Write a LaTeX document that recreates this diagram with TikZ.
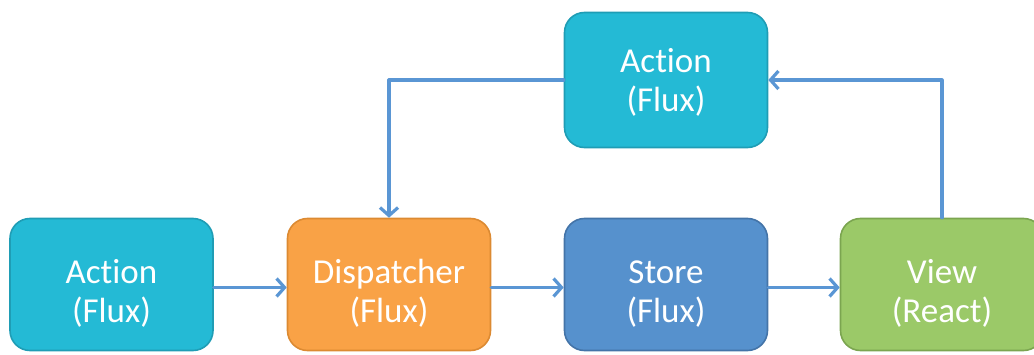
\documentclass[tikz,border=0pt]{standalone}
\usepackage{fontspec}
\setmainfont{Carlito}[Ligatures=NoCommon]
\usetikzlibrary{arrows.meta}
\definecolor{actfill}{HTML}{24BAD5}
\definecolor{actline}{HTML}{1F9DB5}
\definecolor{dispfill}{HTML}{F9A246}
\definecolor{displine}{HTML}{DC8A32}
\definecolor{storefill}{HTML}{5691CD}
\definecolor{storeline}{HTML}{4474A8}
\definecolor{viewfill}{HTML}{9BC968}
\definecolor{viewline}{HTML}{7BA550}
\definecolor{flowblue}{HTML}{5A96D4}
\begin{document}
\begin{tikzpicture}[x=1pt,y=1pt,line join=round,line cap=round,
	font=\fontsize{35}{39}\selectfont,
	box/.style={rectangle,line width=1.6pt,rounded corners=20pt,minimum width=203pt,minimum height=132pt,text=white,align=center,inner sep=0pt,text height=84pt,text depth=9pt},
	flow/.style={draw=flowblue,line width=3.2pt,-{Straight Barb[length=8pt,width=18pt]}}]
	\useasboundingbox (0,0) rectangle (1034,354);
	\path(111.5,69.5)node[box,fill=actfill,draw=actline](a){Action\\(Flux)}%hang duoi
	++(277.5,0)node[box,fill=dispfill,draw=displine](d){Dispatcher\\(Flux)}
	++(277,0)node[box,fill=storefill,draw=storeline](s){Store\\(Flux)}
	++(276,0)node[box,fill=viewfill,draw=viewline](v){View\\(React)}
	;
	\path%hang tren
	(s)++(0,204.5)node[box,fill=actfill,draw=actline,minimum height=135pt,text height=72pt](t){Action\\(Flux)}
	;
	%Ve
	\draw[flow]([yshift=-3pt]a.east)--([yshift=-3pt]d.west);
	\draw[flow]([yshift=-3pt]d.east)--([yshift=-3pt]s.west);
	\draw[flow]([yshift=-3pt]s.east)--([yshift=-3pt]v.west);
	\draw[flow](v.north)|-(t.east);
	\draw[flow](t.west)-|(d.north);
\end{tikzpicture}
\end{document}
